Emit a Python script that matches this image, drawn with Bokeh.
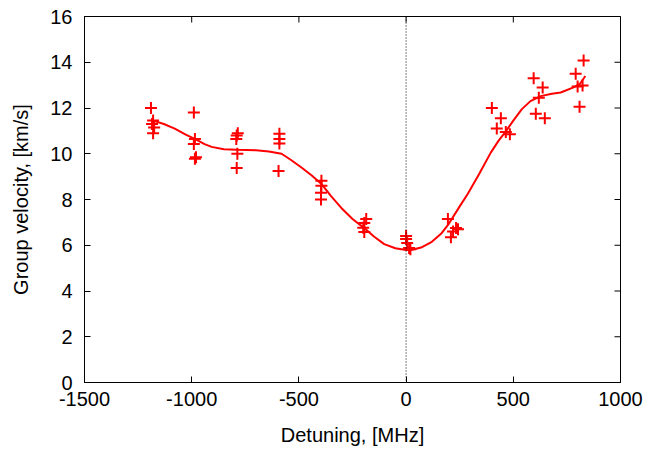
import math
from bokeh.plotting import figure
from bokeh.models import Span, Range1d, FixedTicker, CustomJSTickFormatter
from bokeh.embed import file_html
from bokeh.resources import INLINE

# measured points (detuning MHz, group velocity km/s)
det_pts = [-1190, -1180, -1185, -1175, -1180,
           -990, -985, -990, -980, -985,
           -790, -785, -792, -787, -790,
           -591, -591, -591, -595,
           -395, -395, -397, -397,
           -186, -195, -200, -195,
           0, 0, 5, 14, 20,
           195, 242, 233, 219, 209,
           400, 442, 423, 465, 484,
           595, 637, 619, 605, 647,
           828, 791, 800, 823, 809]
vel_pts = [12.0, 11.45, 11.3, 11.15, 10.9,
           11.8, 10.65, 10.43, 9.85, 9.78,
           10.8, 10.9, 10.65, 10.0, 9.38,
           10.87, 10.65, 10.45, 9.25,
           8.82, 8.6, 8.3, 8.0,
           7.15, 6.97, 6.77, 6.58,
           6.4, 6.27, 6.1, 5.88, 5.83,
           7.15, 6.7, 6.75, 6.6, 6.35,
           12.0, 11.55, 11.1, 10.95, 10.85,
           13.3, 12.9, 12.45, 11.75, 11.55,
           14.08, 13.5, 12.94, 12.98, 12.06]

# fitted curve
det_fit = [-1180, -1130, -1079, -1030, -986, -940, -907, -850, -790, -700, -640, -581,
           -540, -488, -440, -395, -350, -302, -250, -195, -150, -102, -50, 0,
           23, 70, 120, 163, 200, 250, 288, 340, 395, 430, 465, 500, 540, 580,
           628, 680, 721, 781, 810, 828, 836]
vel_fit = [11.45, 11.3, 11.1, 10.85, 10.65, 10.42, 10.3, 10.2, 10.17, 10.15, 10.1, 10.0,
           9.75, 9.4, 9.05, 8.68, 8.15, 7.63, 7.15, 6.75, 6.38, 6.05, 5.87, 5.79,
           5.79, 5.9, 6.15, 6.5, 6.95, 7.7, 8.25, 9.1, 10.05, 10.55, 10.98, 11.45, 11.95, 12.3,
           12.52, 12.62, 12.68, 12.9, 13.05, 13.29, 13.4]

x_ticks = [-1500, -1000, -500, 0, 500, 1000]
y_ticks = [0, 2, 4, 6, 8, 10, 12, 14, 16]
x_min, x_max = -1500, 1000
y_min, y_max = 0, 16

FONT = "Liberation Sans"
FS = "20px"

p = figure(width=657, height=449, output_backend="svg", toolbar_location=None,
           x_range=Range1d(x_min, x_max), y_range=Range1d(y_min, y_max),
           min_border_left=84, min_border_right=37, min_border_top=16, min_border_bottom=67)
p.grid.visible = False
p.outline_line_color = "black"
p.outline_line_width = 1

fmt = CustomJSTickFormatter(code="return tick.toFixed(0);")

for ax in (p.xaxis[0], p.yaxis[0]):
    ax.major_tick_in = 6
    ax.major_tick_out = 0
    ax.minor_tick_in = 0
    ax.minor_tick_out = 0
    ax.formatter = fmt
    ax.major_label_text_font = FONT
    ax.major_label_text_font_size = FS
    ax.major_label_text_color = "black"
    ax.axis_label_text_font = FONT
    ax.axis_label_text_font_size = FS
    ax.axis_label_text_font_style = "normal"
    ax.axis_label_text_color = "black"
    ax.axis_line_color = "black"
    ax.major_tick_line_color = "black"

p.xaxis[0].ticker = FixedTicker(ticks=x_ticks)
p.yaxis[0].ticker = FixedTicker(ticks=y_ticks)
p.xaxis[0].axis_label = "Detuning, [MHz]"
p.yaxis[0].axis_label = "Group velocity, [km/s]"
p.xaxis[0].major_label_standoff = 9
p.yaxis[0].major_label_standoff = 12
p.xaxis[0].axis_label_standoff = 15
p.yaxis[0].axis_label_standoff = 15

# mirror ticks on the top and right frame edges (half of each dash is clipped by the frame)
p.scatter(x_ticks, [y_max] * len(x_ticks), marker="dash", angle=math.pi / 2, size=12,
          line_color="black", line_width=1)
p.scatter([x_max] * len(y_ticks), y_ticks, marker="dash", size=12,
          line_color="black", line_width=1)

p.add_layout(Span(location=0, dimension="height", line_color="black",
                  line_width=1, line_dash="1 2"))

p.line(det_fit, vel_fit, line_color="#ff0000", line_width=2)
p.scatter(det_pts, vel_pts, marker="cross", size=12, line_color="#ff0000", line_width=2)

open("out.html", "w").write(file_html(p, INLINE))
